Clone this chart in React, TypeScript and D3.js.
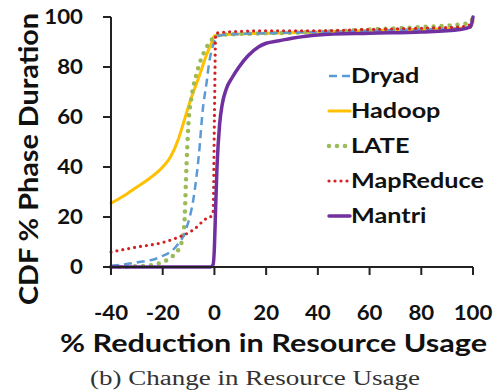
import React from "react";
import * as d3 from "d3";

const xTicks = [-40, -20, 0, 20, 40, 60, 80, 100];
const yTicks = [0, 20, 40, 60, 80, 100];

const dryadX = [-40, -30, -21, -15, -11, -8, -6, -4.5, -3, -2, -1, 0, 2, 5, 20, 40, 60, 80, 95, 99, 100];
const dryadY = [0.5, 1.8, 4, 8, 15, 28, 45, 63, 74, 82, 87, 90, 92.5, 93, 93.5, 94, 94.5, 95, 95.5, 96, 98];

const hadoopX = [-40, -35, -30, -25, -20, -17, -14, -12, -9.5, -6, -3, -1, 0, 5, 20, 40, 60, 80, 95, 99, 100];
const hadoopY = [25.5, 28.5, 32, 35.5, 40, 44, 51, 57.5, 66, 76, 85, 90, 92.5, 93, 93.5, 94, 94.5, 95, 95.5, 96, 98];

const lateX = [-40, -30, -24, -20, -16, -13, -12, -11.5, -11, -10.5, -10, -9, -7, -4, -1, 0, 5, 20, 40, 60, 80, 95, 99, 100];
const lateY = [0, 0.3, 0.8, 2, 4.5, 9, 13, 20, 35, 48, 58, 67, 77, 86, 91, 92.5, 93, 93.5, 94, 95, 96, 97, 98, 100];

const mapReduceX = [-40, -30, -20, -15, -8, -3, -1, -0.5, 0, 0.5, 5, 20, 40, 60, 80, 95, 99, 100];
const mapReduceY = [6, 8, 9.8, 11.5, 15, 19.5, 20.5, 22, 60, 93.5, 94, 94.5, 94.5, 95, 95.5, 96, 97, 99];

const mantriX = [-40, -20, -5, -1.5, -0.5, 0, 0.5, 1, 2, 3, 4.5, 7, 9.5, 13, 17, 20, 25, 30, 40, 60, 80, 95, 99, 100];
const mantriY = [0, 0, 0, 0, 1, 8, 25, 40, 57, 65, 71, 76, 80, 84.5, 88, 89.5, 90.5, 91.5, 92.8, 93.5, 94, 95, 96, 100];

const seriesNames = ["Dryad", "Hadoop", "LATE", "MapReduce", "Mantri"];

const styles: Record<string, { color: string; width: number; dash: string | null; cap: string }> = {
  Dryad: { color: "#5b9bd5", width: 2.5, dash: "8 5", cap: "butt" },
  Hadoop: { color: "#ffc000", width: 3, dash: null, cap: "round" },
  LATE: { color: "#9bbb59", width: 4.5, dash: "0 8", cap: "round" },
  MapReduce: { color: "#d42020", width: 3.2, dash: "0 6", cap: "round" },
  Mantri: { color: "#7030a0", width: 3.5, dash: null, cap: "round" },
};

const seriesData: Record<string, [number[], number[]]> = {
  Dryad: [dryadX, dryadY],
  Hadoop: [hadoopX, hadoopY],
  LATE: [lateX, lateY],
  MapReduce: [mapReduceX, mapReduceY],
  Mantri: [mantriX, mantriY],
};

const drawOrder = ["Hadoop", "LATE", "Dryad", "MapReduce", "Mantri"];

export default function App() {
  const x = d3.scaleLinear().domain([-40, 100]).range([111, 473]);
  const y = d3.scaleLinear().domain([0, 100]).range([267, 17]);
  const line = d3
    .line<[number, number]>()
    .x((d) => x(d[0]))
    .y((d) => y(d[1]))
    .curve(d3.curveMonotoneX);

  const font = "Lato, 'Open Sans', sans-serif";

  return (
    <svg
      width={499}
      height={391}
      style={{ position: "absolute", left: 0, top: 0, background: "#fff" }}
    >
      <rect width={499} height={391} fill="#fff" />
      {drawOrder.map((name) => {
        const [xs, ys] = seriesData[name];
        const pts = xs.map((v, i) => [v, ys[i]] as [number, number]);
        const s = styles[name];
        return (
          <path
            key={name}
            d={line(pts) || ""}
            fill="none"
            stroke={s.color}
            strokeWidth={s.width}
            strokeDasharray={s.dash || undefined}
            strokeLinecap={s.cap as any}
            strokeLinejoin="round"
          />
        );
      })}
      {/* axes */}
      <line x1={x(-40)} x2={x(100)} y1={y(0)} y2={y(0)} stroke="#222" strokeWidth={2} />
      <line x1={x(-40)} x2={x(-40)} y1={y(0)} y2={y(100)} stroke="#222" strokeWidth={2} />
      {xTicks.map((t) => (
        <g key={"xt" + t}>
          <line x1={x(t)} x2={x(t)} y1={y(0)} y2={y(0) + 8} stroke="#222" strokeWidth={2} />
          <text
            transform={`translate(${x(t)},320) scale(1.06,1)`}
            textAnchor="middle"
            fontFamily={font}
            fontWeight="bold"
            fontSize={21}
            fill="#111"
          >
            {t}
          </text>
        </g>
      ))}
      {yTicks.map((t) => (
        <g key={"yt" + t}>
          <line x1={x(-40) - 8} x2={x(-40)} y1={y(t)} y2={y(t)} stroke="#222" strokeWidth={2} />
          <text
            transform={`translate(83,${y(t)}) scale(1.06,1)`}
            dy="0.35em"
            textAnchor="end"
            fontFamily={font}
            fontWeight="bold"
            fontSize={21}
            fill="#111"
          >
            {t}
          </text>
        </g>
      ))}
      <text
        transform="translate(38,305) rotate(-90)"
        textAnchor="start"
        fontFamily={font}
        fontWeight="bold"
        fontSize={27}
        textLength={292}
        lengthAdjust="spacingAndGlyphs"
        fill="#111"
      >
        CDF % Phase Duration
      </text>
      <text
        x={60}
        y={352}
        textAnchor="start"
        fontFamily={font}
        fontWeight="bold"
        fontSize={24}
        textLength={427}
        lengthAdjust="spacingAndGlyphs"
        fill="#111"
      >
        % Reduction in Resource Usage
      </text>
      <text
        x={90}
        y={385}
        textAnchor="start"
        fontFamily="'Liberation Serif', 'Times New Roman', serif"
        fontSize={20}
        textLength={330}
        lengthAdjust="spacingAndGlyphs"
        fill="#333"
      >
        (b) Change in Resource Usage
      </text>
      {/* legend */}
      {seriesNames.map((name, i) => {
        const s = styles[name];
        const cy = 76 + i * 35;
        return (
          <g key={"lg" + name}>
            <line
              x1={329}
              x2={350}
              y1={cy}
              y2={cy}
              stroke={s.color}
              strokeWidth={s.width}
              strokeDasharray={s.dash || undefined}
              strokeLinecap={s.cap as any}
            />
            <text
              transform={`translate(351,${cy}) scale(1.2,1)`}
              dy="0.35em"
              fontFamily={font}
              fontWeight="bold"
              fontSize={21}
              fill="#111"
            >
              {name}
            </text>
          </g>
        );
      })}
    </svg>
  );
}
